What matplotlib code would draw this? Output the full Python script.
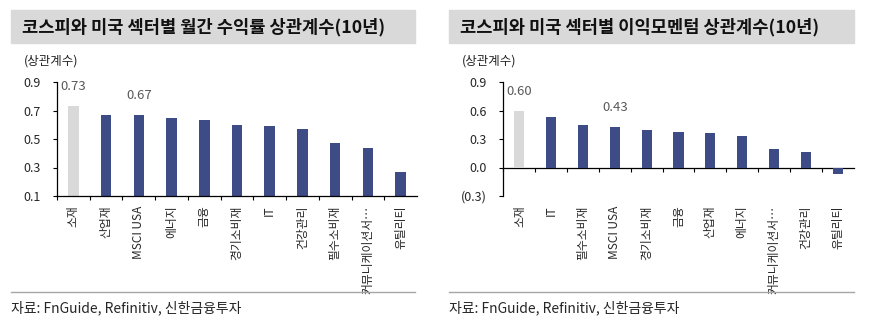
import matplotlib
matplotlib.use("Agg")
import matplotlib.pyplot as plt
from matplotlib.patches import Rectangle
from matplotlib.ticker import FixedLocator, FuncFormatter

plt.rcParams['font.family'] = ['Noto Sans CJK KR', 'DejaVu Sans']

# 왼쪽: 월간 수익률 상관계수
ret_titles = "코스피와 미국 섹터별 월간 수익률 상관계수(10년)"
ret_sectors = ["소재", "산업재", "MSCI USA", "에너지", "금융", "경기소비재", "IT",
               "건강관리", "필수소비재", "커뮤니케이션서…", "유틸리티"]
ret_values = [0.73, 0.67, 0.67, 0.65, 0.63, 0.60, 0.59, 0.57, 0.47, 0.44, 0.27]
ret_yticks = [0.1, 0.3, 0.5, 0.7, 0.9]

# 오른쪽: 이익모멘텀 상관계수
mom_title = "코스피와 미국 섹터별 이익모멘텀 상관계수(10년)"
mom_sectors = ["소재", "IT", "필수소비재", "MSCI USA", "경기소비재", "금융", "산업재",
               "에너지", "커뮤니케이션서…", "건강관리", "유틸리티"]
mom_values = [0.60, 0.53, 0.45, 0.43, 0.39, 0.37, 0.36, 0.33, 0.19, 0.16, -0.07]
mom_yticks = [-0.3, 0.0, 0.3, 0.6, 0.9]

labelled = ["소재", "MSCI USA"]
source = "자료: FnGuide, Refinitiv, 신한금융투자"

NAVY = "#3d4b86"
GREY = "#d9d9d9"
TXT = "#262626"

W, H = 873, 327
fig = plt.figure(figsize=(W / 100, H / 100), dpi=100)


def px_box(x0, y0, x1, y1):
    # pixel box (top-left origin) -> figure fraction
    return [x0 / W, 1 - y1 / H, (x1 - x0) / W, (y1 - y0) / H]


def fmt_paren(v, pos):
    if v < -1e-9:
        return f"({abs(v):.1f})"
    return f"{abs(v):.1f}"


def panel(x_left, x_right, panel_x0, panel_x1, title, sectors, values, yticks):
    # title bar
    fig.patches.append(Rectangle((panel_x0 / W, 1 - 43 / H), (panel_x1 - panel_x0) / W, 33 / H,
                                 transform=fig.transFigure, color=GREY, zorder=0))
    fig.text((panel_x0 + 11) / W, 1 - 27 / H, title, fontsize=12.7, fontweight="bold",
             color="#111111", va="center", ha="left")
    fig.text((panel_x0 + 13) / W, 1 - 61 / H, "(상관계수)", fontsize=9, color=TXT,
             va="center", ha="left")
    # separator + source
    fig.add_artist(plt.Line2D([panel_x0 / W, panel_x1 / W], [1 - 292 / H, 1 - 292 / H],
                              color="#a6a6a6", lw=1, transform=fig.transFigure))
    fig.text(panel_x0 / W, 1 - 308 / H, source, fontsize=10, color=TXT,
             va="center", ha="left")

    ax = fig.add_axes(px_box(x_left, 82, x_right, 196))
    x = list(range(len(sectors)))
    colors = [GREY] + [NAVY] * (len(sectors) - 1)
    ax.bar(x, values, width=0.32, color=colors, zorder=2)
    ax.set_xlim(-0.5, len(sectors) - 0.5)
    ax.set_ylim(yticks[0], yticks[-1])
    ax.set_yticks(yticks)
    ax.yaxis.set_major_formatter(FuncFormatter(fmt_paren))
    ax.tick_params(axis="y", direction="out", length=3, width=0.8, pad=9,
                   labelsize=9, labelcolor=TXT)
    ax.set_xticks(x)
    ax.set_xticklabels(sectors, rotation=90, fontsize=8.5, color=TXT)
    for s in ["top", "right"]:
        ax.spines[s].set_visible(False)
    ax.spines["left"].set_linewidth(0.9)

    boundaries = [i - 0.5 for i in range(len(sectors))]
    if yticks[0] < 0:
        ax.spines["bottom"].set_visible(False)
        ax.tick_params(axis="x", length=0, pad=7)
        sec = ax.secondary_xaxis(0.0, transform=ax.transData)
        sec.spines["bottom"].set_linewidth(0.9)
        sec.set_xticks(boundaries)
        sec.set_xticklabels([])
        sec.tick_params(axis="x", direction="out", length=3, width=0.8)
    else:
        ax.spines["bottom"].set_linewidth(0.9)
        ax.tick_params(axis="x", which="major", length=0, pad=7)
        ax.xaxis.set_minor_locator(FixedLocator(boundaries))
        ax.tick_params(axis="x", which="minor", direction="out", length=3, width=0.8)

    for i, (s, v) in enumerate(zip(sectors, values)):
        if s in labelled:
            ax.annotate(f"{v:.2f}", (i, v), xytext=(0, 14), textcoords="offset points",
                        ha="center", va="center", fontsize=9.5, color="#595959")
    return ax


panel(57, 417, 11, 415, ret_titles, ret_sectors, ret_values, ret_yticks)
panel(503.5, 853.5, 449, 854, mom_title, mom_sectors, mom_values, mom_yticks)

fig.savefig("out.png", dpi=100)
